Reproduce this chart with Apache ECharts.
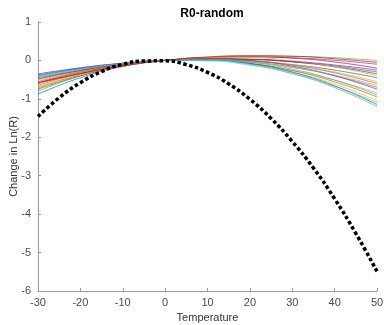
<!DOCTYPE html>
<html>
<head>
<meta charset="utf-8">
<script src="https://cdn.jsdelivr.net/npm/echarts@6/dist/echarts.min.js"></script>
<style>html,body{margin:0;padding:0;background:#fff}#c{width:384px;height:325px}</style>
</head>
<body>
<div id="c"></div>
<script>
var title = 'R0-random';
var xName = 'Temperature';
var yName = 'Change in Ln(R)';
var xTicks = [-30, -20, -10, 0, 10, 20, 30, 40, 50];
var yTicks = [-6, -5, -4, -3, -2, -1, 0, 1];

// temperatures for the random-sample curves
var tempsRand = [-30, -20, -10, 0, 10, 20, 30, 40, 50];
var rand01 = [-0.40, -0.218, -0.085, 0, 0.037, 0.025, -0.035, -0.143, -0.30];
var rand02 = [-0.55, -0.286, -0.103, 0, 0.022, -0.038, -0.178, -0.398, -0.70];
var rand03 = [-0.70, -0.356, -0.123, 0, 0.012, -0.088, -0.298, -0.618, -1.05];
var rand04 = [-0.45, -0.258, -0.108, 0, 0.065, 0.088, 0.068, 0.005, -0.10];
var rand05 = [-0.80, -0.407, -0.140, 0, 0.013, -0.100, -0.340, -0.707, -1.20];
var rand06 = [-0.50, -0.249, -0.083, 0, -0.002, -0.088, -0.258, -0.512, -0.85];
var rand07 = [-0.60, -0.340, -0.140, 0, 0.080, 0.100, 0.060, -0.040, -0.20];
var rand08 = [-0.38, -0.199, -0.073, 0, 0.018, -0.018, -0.108, -0.252, -0.45];
var rand09 = [-0.65, -0.332, -0.115, 0, 0.013, -0.075, -0.265, -0.557, -0.95];
var rand10 = [-0.52, -0.276, -0.103, 0, 0.032, -0.008, -0.118, -0.298, -0.55];
var rand11 = [-0.75, -0.400, -0.150, 0, 0.050, 0.000, -0.150, -0.400, -0.75];
var rand12 = [-0.42, -0.245, -0.105, 0, 0.070, 0.105, 0.105, 0.070, 0.00];
var rand13 = [-0.60, -0.295, -0.095, 0, -0.010, -0.125, -0.345, -0.670, -1.10];
var rand14 = [-0.48, -0.263, -0.103, 0, 0.045, 0.033, -0.038, -0.165, -0.35];
var rand15 = [-0.88, -0.450, -0.158, 0, 0.027, -0.075, -0.305, -0.663, -1.15];
var rand16 = [-0.58, -0.308, -0.115, 0, 0.037, -0.005, -0.125, -0.323, -0.60];
var rand17 = [-0.68, -0.377, -0.150, 0, 0.073, 0.070, -0.010, -0.167, -0.40];
var rand18 = [-0.35, -0.192, -0.075, 0, 0.033, 0.025, -0.025, -0.117, -0.25];
var rand19 = [-0.72, -0.375, -0.135, 0, 0.030, -0.045, -0.225, -0.510, -0.90];
var rand20 = [-0.46, -0.236, -0.083, 0, 0.012, -0.048, -0.178, -0.378, -0.65];
var rand21 = [-0.58, -0.340, -0.145, 0, 0.090, 0.125, 0.110, 0.045, -0.05];
var randSeries = [rand01, rand02, rand03, rand04, rand05, rand06, rand07, rand08, rand09, rand10,
  rand11, rand12, rand13, rand14, rand15, rand16, rand17, rand18, rand19, rand20, rand21];

// temperatures and values for the thick dotted curve
var tempsMain = [-30, -25, -20, -15, -10, -5, 0, 5, 10, 15, 20, 25, 30, 35, 40, 45, 50];
var mainVals = [-1.46, -0.97, -0.58, -0.29, -0.10, -0.015, -0.01, -0.11, -0.31, -0.61, -1.01, -1.51, -2.11, -2.80, -3.60, -4.50, -5.49];

var palette = ['#0072BD', '#D95319', '#EDB120', '#7E2F8E', '#77AC30', '#4DBEEE', '#A2142F'];

function pairs(xs, ys) { return xs.map(function (x, i) { return [x, ys[i]]; }); }

var series = randSeries.map(function (vals, i) {
  return {
    type: 'line', data: pairs(tempsRand, vals), showSymbol: false, smooth: 0.5,
    lineStyle: { width: 0.7, color: palette[i % palette.length] }, silent: true, z: 2
  };
});
series.push({
  type: 'line', data: pairs(tempsMain, mainVals), showSymbol: false, smooth: 0.5,
  lineStyle: { width: 3.5, color: '#000', type: [3.5, 2.5], cap: 'butt' }, silent: true, z: 5
});

var chart = echarts.init(document.getElementById('c'));
chart.setOption({
  animation: false,
  backgroundColor: '#fff',
  title: {
    text: title, left: 207, top: 3, textAlign: 'center',
    textStyle: { fontFamily: 'Arial, Liberation Sans', fontSize: 12, fontWeight: 'bold', color: '#000' }
  },
  grid: { left: 38, right: 7, top: 22, bottom: 34, containLabel: false, outerBoundsMode: 'none' },
  xAxis: {
    type: 'value', min: xTicks[0], max: xTicks[xTicks.length - 1], interval: 10,
    name: xName, nameLocation: 'middle', nameGap: 21, nameMoveOverlap: false,
    nameTextStyle: { fontFamily: 'Arial, Liberation Sans', fontSize: 11, color: '#333' },
    axisLine: { show: true, onZero: false, lineStyle: { color: '#9a9a9a', width: 1 } },
    axisTick: { show: true, inside: true, length: 3, lineStyle: { color: '#9a9a9a' } },
    axisLabel: { fontFamily: 'Arial, Liberation Sans', fontSize: 11, color: '#4a4a4a', margin: 6 },
    splitLine: { show: false }
  },
  yAxis: {
    type: 'value', min: yTicks[0], max: yTicks[yTicks.length - 1], interval: 1,
    name: yName, nameLocation: 'middle', nameGap: 19, nameRotate: 90, nameMoveOverlap: false,
    nameTextStyle: { fontFamily: 'Arial, Liberation Sans', fontSize: 11, color: '#333' },
    axisLine: { show: true, onZero: false, lineStyle: { color: '#9a9a9a', width: 1 } },
    axisTick: { show: true, inside: true, length: 3, lineStyle: { color: '#9a9a9a' } },
    axisLabel: { fontFamily: 'Arial, Liberation Sans', fontSize: 11, color: '#4a4a4a', margin: 7 },
    splitLine: { show: false }
  },
  series: series
});
</script>
</body>
</html>
